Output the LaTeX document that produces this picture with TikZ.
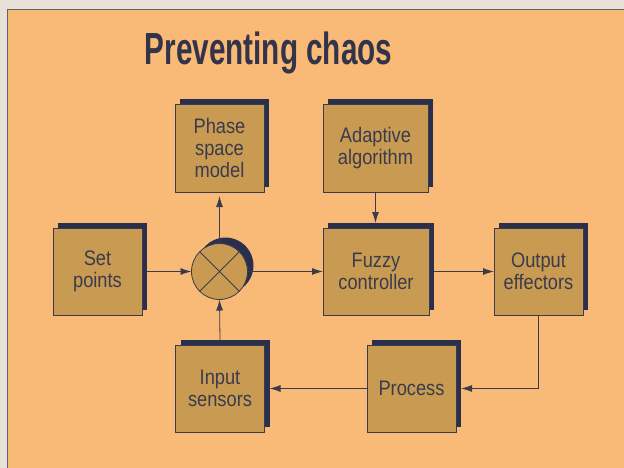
\documentclass[tikz,border=0pt]{standalone}
\usepackage{fontspec}
\setmainfont{Liberation Sans}
\newfontfamily\titlefont{Liberation Sans}[FakeStretch=0.66]
\newfontfamily\boxfont{Liberation Sans}[FakeStretch=0.87]
\usetikzlibrary{shadows,arrows.meta}
\definecolor{outerbg}{HTML}{E8E1D8}
\definecolor{panel}{HTML}{F8BA76}
\definecolor{boxfill}{HTML}{C89A52}
\definecolor{shadowc}{HTML}{2A2F4E}
\definecolor{ink}{HTML}{3A3C4C}
\definecolor{titleink}{HTML}{33334A}
\tikzset{
  blockbox/.style={draw=ink, line width=0.8pt, fill=boxfill,
    minimum width=89pt, minimum height=87pt, inner sep=0pt, outer sep=0pt,
    align=center, font=\boxfont\fontsize{21}{22}\selectfont, text=ink,
    general shadow={fill=shadowc, shadow xshift=5pt, shadow yshift=5pt}},
  mixer/.style={circle, draw=ink, line width=0.8pt, fill=boxfill,
    minimum size=56pt, inner sep=0pt, outer sep=0pt,
    general shadow={fill=shadowc, shadow xshift=6pt, shadow yshift=6pt}},
  flow/.style={draw=ink, line width=0.8pt, -{Latex[length=11pt,width=7pt]}},
  plain/.style={draw=ink, line width=0.8pt}
}
\begin{document}
\begin{tikzpicture}[x=1pt,y=-1pt]
\useasboundingbox (0,0) rectangle (624,468);
\fill[outerbg] (0,0) rectangle (624,468);
\fill[panel] (7,9.5) rectangle (624,468);
\draw[ink!80, line width=1pt] (7,468) -- (7,9.5) -- (624,9.5);

\node[font=\titlefont\bfseries\fontsize{45}{50}\selectfont, text=titleink, anchor=base] (title) at (268.5,65) {Preventing chaos};

\node[blockbox] (sp) at (97.5,271.5) {Set\\points};
\node[mixer] (mx) at (219.5,271.5) {};
\draw[plain] (mx.45) -- (mx.225) (mx.135) -- (mx.315);
\node[blockbox, minimum width=106pt] (fz) at (376,271.5) {Fuzzy\\controller};
\node[blockbox] (out) at (538.5,271.5) {Output\\effectors};
\node[blockbox, minimum height=88pt] (ph) at (219.5,148) {Phase\\space\\model};
\node[blockbox, minimum width=105pt, minimum height=88pt] (ad) at (375.5,148) {Adaptive\\algorithm};
\node[blockbox] (in) at (220,388.5) {Input\\sensors};
\node[blockbox] (pr) at (411.5,388.5) {Process};

\draw[flow] ([xshift=5pt]sp.east) -- (mx.west);
\draw[flow] (mx.east) -- (fz.west);
\draw[flow, shorten >=4pt] (mx.north) -- (ph.south);
\draw[flow] (ad.south) -- ([yshift=5pt]ad.south |- fz.north);
\draw[flow] ([xshift=5pt]fz.east) -- (out.west);
\draw[flow] (out.south) |- ([xshift=5pt]pr.east);
\draw[flow] (pr.west) -- ([xshift=5pt]in.east);
\draw[flow] ([yshift=5pt]in.north) -- (mx.south);
\end{tikzpicture}
\end{document}
